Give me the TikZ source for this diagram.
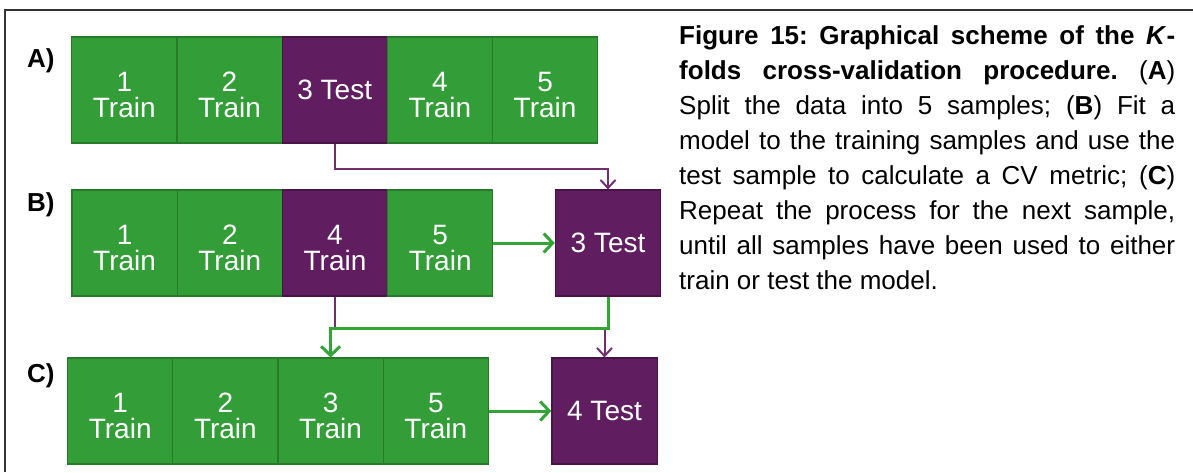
\documentclass[tikz,border=0pt]{standalone}
\usepackage{fontspec}
\setmainfont{Liberation Sans}
\usetikzlibrary{arrows.meta}
\definecolor{tgreen}{RGB}{51,158,56}
\definecolor{tgreenD}{RGB}{38,122,42}
\definecolor{tpurp}{RGB}{96,30,96}
\definecolor{tpurpD}{RGB}{72,20,72}
\definecolor{lgreen}{RGB}{51,165,55}
\definecolor{lpurp}{RGB}{112,46,112}
\newcommand{\twol}[1]{\rule{0pt}{30pt}#1\\Train}
\frenchspacing
\begin{document}
\begin{tikzpicture}[x=1pt,y=-1pt,
  box/.style={rectangle, minimum width=105.2pt, minimum height=106pt, inner sep=0pt, text=white,
    font=\fontsize{28}{26}\selectfont, align=center, line width=1.2pt},
  trainbox/.style={box, fill=tgreen, draw=tgreenD},
  testbox/.style={box, fill=tpurp, draw=tpurpD},
  lab/.style={font=\bfseries\fontsize{26}{26}\selectfont, anchor=base west, inner sep=0pt},
  gconn/.style={draw=lgreen, line width=3pt, -{Straight Barb[length=9pt,width=19pt]}},
  pconn/.style={draw=lpurp, line width=2pt, -{Straight Barb[length=8pt,width=15pt]}},
  caption/.style={text width=496pt, align=justify, inner sep=0pt, anchor=base west,
    font=\fontsize{26}{35}\selectfont}
]
\useasboundingbox (0,0) rectangle (1193,472);
% frame
\draw[line width=2pt, black!80] (5,472) -- (5,10) -- (1193,10);

% labels
\node[lab] (la) at (27,67) {A)};
\node[lab] (lb) at (27,211) {B)};
\node[lab] (lc) at (27,382) {C)};

% row A
\node[trainbox] (a1) at (124.3,90) {\twol{1}};
\node[trainbox] (a2) at (229.5,90) {\twol{2}};
\node[testbox]  (a3) at (334.7,90) {3 Test};
\node[trainbox] (a4) at (439.9,90) {\twol{4}};
\node[trainbox] (a5) at (545.1,90) {\twol{5}};

% row B
\node[trainbox] (b1) at (124.6,243) {\twol{1}};
\node[trainbox] (b2) at (229.8,243) {\twol{2}};
\node[testbox]  (b3) at (335.0,243) {\twol{4}};
\node[trainbox] (b4) at (440.2,243) {\twol{5}};
\node[testbox]  (bt) at (608,243) {3 Test};

% row C
\node[trainbox] (c1) at (120.2,411) {\twol{1}};
\node[trainbox] (c2) at (225.4,411) {\twol{2}};
\node[trainbox] (c3) at (330.6,411) {\twol{3}};
\node[trainbox] (c4) at (435.8,411) {\twol{5}};
\node[testbox]  (ct) at (604.5,411) {4 Test};

% connectors
\draw[pconn] (a3.south) -- ++(0,25) -| (bt.north);
\draw[gconn] (b4.east) -- (bt.west);
\draw[pconn] (b3.south) -- ++(0,32) -| (ct.north);
\draw[gconn] (bt.south) -- ++(0,32) -| (c3.north);
\draw[gconn] (c4.east) -- (ct.west);

% caption
\node[caption] (cap) at (679,44.5) {\textbf{Figure 15: Graphical scheme of the \textit{K}-}\linebreak
\textbf{folds cross-validation procedure.} (\textbf{A})\linebreak
Split the data into 5 samples; (\textbf{B}) Fit a\linebreak
model to the training samples and use the\linebreak
test sample to calculate a CV metric; (\textbf{C})\linebreak
Repeat the process for the next sample,\linebreak
until all samples have been used to either\linebreak
train or test the model.};
\end{tikzpicture}
\end{document}
